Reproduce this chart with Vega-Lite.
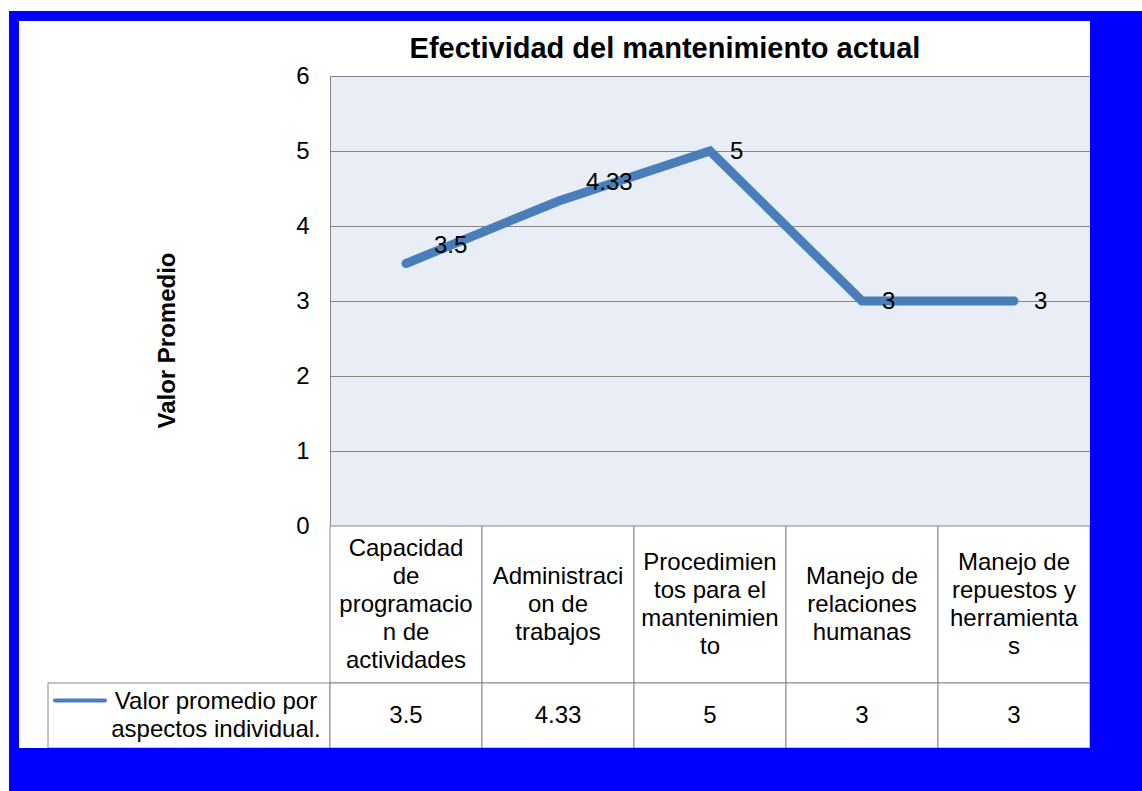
{
  "$schema": "https://vega.github.io/schema/vega-lite/v6.json",
  "background": "white",
  "padding": {"left": 9, "top": 11, "right": 0, "bottom": 0},
  "config": {
    "font": "Liberation Sans",
    "view": {"stroke": null},
    "text": {"color": "black", "fontSize": 24}
  },
  "datasets": {
    "aspectos": [
      {"aspecto": "Capacidad de programacion de actividades", "etiqueta": "Capacidad\nde\nprogramacio\nn de\nactividades", "valor": 3.5},
      {"aspecto": "Administracion de trabajos", "etiqueta": "Administraci\non de\ntrabajos", "valor": 4.33},
      {"aspecto": "Procedimientos para el mantenimiento", "etiqueta": "Procedimien\ntos para el\nmantenimien\nto", "valor": 5},
      {"aspecto": "Manejo de relaciones humanas", "etiqueta": "Manejo de\nrelaciones\nhumanas", "valor": 3},
      {"aspecto": "Manejo de repuestos y herramientas", "etiqueta": "Manejo de\nrepuestos y\nherramienta\ns", "valor": 3}
    ],
    "serie": [{"serie": "Valor promedio por aspectos individual.", "etiqueta": "Valor promedio por\naspectos individual."}],
    "titulo": [{"titulo": "Efectividad del mantenimiento actual"}],
    "vacio": [{"v": ""}]
  },
  "columns": 5,
  "spacing": 0,
  "bounds": "flush",
  "align": "each",
  "concat": [
    {"width": 10, "height": 10, "data": {"name": "vacio"}, "mark": {"type": "rect", "fill": "#0000FF"}, "encoding": {}},
    {"width": 29, "height": 10, "data": {"name": "vacio"}, "mark": {"type": "rect", "fill": "#0000FF"}, "encoding": {}},
    {"width": 282, "height": 10, "data": {"name": "vacio"}, "mark": {"type": "rect", "fill": "#0000FF"}, "encoding": {}},
    {"width": 760, "height": 10, "data": {"name": "vacio"}, "mark": {"type": "rect", "fill": "#0000FF"}, "encoding": {}},
    {"width": 52, "height": 10, "data": {"name": "vacio"}, "mark": {"type": "rect", "fill": "#0000FF"}, "encoding": {}},

    {"width": 10, "height": 55, "data": {"name": "vacio"}, "mark": {"type": "rect", "fill": "#0000FF"}, "encoding": {}},
    {"width": 29, "height": 55, "data": {"name": "vacio"}, "mark": {"type": "rect", "opacity": 0}, "encoding": {}},
    {"width": 282, "height": 55, "data": {"name": "vacio"}, "mark": {"type": "rect", "opacity": 0}, "encoding": {}},
    {
      "width": 760,
      "height": 55,
      "data": {"name": "titulo"},
      "mark": {"type": "text", "fontSize": 29, "fontWeight": "bold", "dx": -45, "baseline": "middle"},
      "encoding": {"text": {"field": "titulo"}}
    },
    {"width": 52, "height": 55, "data": {"name": "vacio"}, "mark": {"type": "rect", "fill": "#0000FF"}, "encoding": {}},

    {"width": 10, "height": 450, "data": {"name": "vacio"}, "mark": {"type": "rect", "fill": "#0000FF"}, "encoding": {}},
    {"width": 29, "height": 450, "data": {"name": "vacio"}, "mark": {"type": "rect", "opacity": 0}, "encoding": {}},
    {"width": 282, "height": 450, "data": {"name": "vacio"}, "mark": {"type": "rect", "opacity": 0}, "encoding": {}},
    {
      "width": 760,
      "height": 450,
      "view": {"fill": "#E9EDF5", "stroke": "#868686"},
      "data": {"name": "aspectos"},
      "encoding": {
        "x": {"field": "aspecto", "type": "nominal", "sort": null, "scale": {"type": "band", "paddingInner": 0, "paddingOuter": 0}, "axis": null},
        "y": {
          "field": "valor", "type": "quantitative",
          "scale": {"domain": [0, 6], "nice": false, "zero": true},
          "axis": {
            "values": [0, 1, 2, 3, 4, 5, 6],
            "title": "Valor Promedio",
            "titleFontSize": 24, "titleFontWeight": "bold", "titleColor": "black",
            "titleX": -163, "titleY": 264, "titleAngle": 270, "titleBaseline": "middle", "titleAlign": "center",
            "labelFontSize": 24, "labelColor": "black", "labelPadding": 21,
            "ticks": false, "domain": false,
            "grid": true, "gridColor": "#868686", "gridOpacity": 1, "gridWidth": 1
          }
        }
      },
      "layer": [
        {"mark": {"type": "line", "stroke": "#4A7EBB", "strokeWidth": 9, "strokeCap": "round"}},
        {
          "transform": [{"filter": {"field": "aspecto", "oneOf": ["Capacidad de programacion de actividades", "Administracion de trabajos"]}}],
          "mark": {"type": "text", "align": "left", "baseline": "middle", "dx": 28, "dy": -18, "fontSize": 24},
          "encoding": {"text": {"field": "valor", "type": "nominal"}}
        },
        {
          "transform": [{"filter": {"field": "aspecto", "oneOf": ["Procedimientos para el mantenimiento", "Manejo de relaciones humanas", "Manejo de repuestos y herramientas"]}}],
          "mark": {"type": "text", "align": "left", "baseline": "middle", "dx": 20, "dy": 1, "fontSize": 24},
          "encoding": {"text": {"field": "valor", "type": "nominal"}}
        }
      ]
    },
    {"width": 52, "height": 450, "data": {"name": "vacio"}, "mark": {"type": "rect", "fill": "#0000FF"}, "encoding": {}},

    {"width": 10, "height": 157, "data": {"name": "vacio"}, "mark": {"type": "rect", "fill": "#0000FF"}, "encoding": {}},
    {"width": 29, "height": 157, "data": {"name": "vacio"}, "mark": {"type": "rect", "opacity": 0}, "encoding": {}},
    {"width": 282, "height": 157, "data": {"name": "vacio"}, "mark": {"type": "rect", "opacity": 0}, "encoding": {}},
    {
      "width": 760,
      "height": 157,
      "data": {"name": "aspectos"},
      "encoding": {
        "x": {"field": "aspecto", "type": "nominal", "sort": null, "scale": {"type": "band", "paddingInner": 0, "paddingOuter": 0}, "axis": null}
      },
      "layer": [
        {"mark": {"type": "rect", "fill": "white", "stroke": "#868686", "strokeWidth": 1}},
        {
          "mark": {"type": "text", "fontSize": 24, "lineBreak": "\n", "lineHeight": 28, "baseline": "middle", "dy": {"expr": "-(length(split(datum.etiqueta, '\\n')) - 1) * 14"}},
          "encoding": {"text": {"field": "etiqueta"}}
        }
      ]
    },
    {"width": 52, "height": 157, "data": {"name": "vacio"}, "mark": {"type": "rect", "fill": "#0000FF"}, "encoding": {}},

    {"width": 10, "height": 65, "data": {"name": "vacio"}, "mark": {"type": "rect", "fill": "#0000FF"}, "encoding": {}},
    {"width": 29, "height": 65, "data": {"name": "vacio"}, "mark": {"type": "rect", "opacity": 0}, "encoding": {}},
    {
      "width": 282,
      "height": 65,
      "data": {"name": "serie"},
      "layer": [
        {"mark": {"type": "rect", "fill": "white", "stroke": "#868686", "strokeWidth": 1}, "encoding": {}},
        {"mark": {"type": "point", "shape": "M-1,0L1,0", "size": 2500, "filled": false, "stroke": "#4A7EBB", "strokeWidth": 4, "strokeCap": "round", "opacity": 1, "xOffset": -109, "yOffset": -15}, "encoding": {}},
        {
          "mark": {"type": "text", "fontSize": 24, "lineBreak": "\n", "lineHeight": 28, "dx": 27, "baseline": "middle", "dy": {"expr": "-(length(split(datum.etiqueta, '\\n')) - 1) * 14"}},
          "encoding": {"text": {"field": "etiqueta"}}
        }
      ]
    },
    {
      "width": 760,
      "height": 65,
      "data": {"name": "aspectos"},
      "encoding": {
        "x": {"field": "aspecto", "type": "nominal", "sort": null, "scale": {"type": "band", "paddingInner": 0, "paddingOuter": 0}, "axis": null}
      },
      "layer": [
        {"mark": {"type": "rect", "fill": "white", "stroke": "#868686", "strokeWidth": 1}},
        {
          "mark": {"type": "text", "fontSize": 24, "baseline": "middle"},
          "encoding": {"text": {"field": "valor", "type": "nominal"}}
        }
      ]
    },
    {"width": 52, "height": 65, "data": {"name": "vacio"}, "mark": {"type": "rect", "fill": "#0000FF"}, "encoding": {}},

    {"width": 10, "height": 43, "data": {"name": "vacio"}, "mark": {"type": "rect", "fill": "#0000FF"}, "encoding": {}},
    {"width": 29, "height": 43, "data": {"name": "vacio"}, "mark": {"type": "rect", "fill": "#0000FF"}, "encoding": {}},
    {"width": 282, "height": 43, "data": {"name": "vacio"}, "mark": {"type": "rect", "fill": "#0000FF"}, "encoding": {}},
    {"width": 760, "height": 43, "data": {"name": "vacio"}, "mark": {"type": "rect", "fill": "#0000FF"}, "encoding": {}},
    {"width": 52, "height": 43, "data": {"name": "vacio"}, "mark": {"type": "rect", "fill": "#0000FF"}, "encoding": {}}
  ]
}
